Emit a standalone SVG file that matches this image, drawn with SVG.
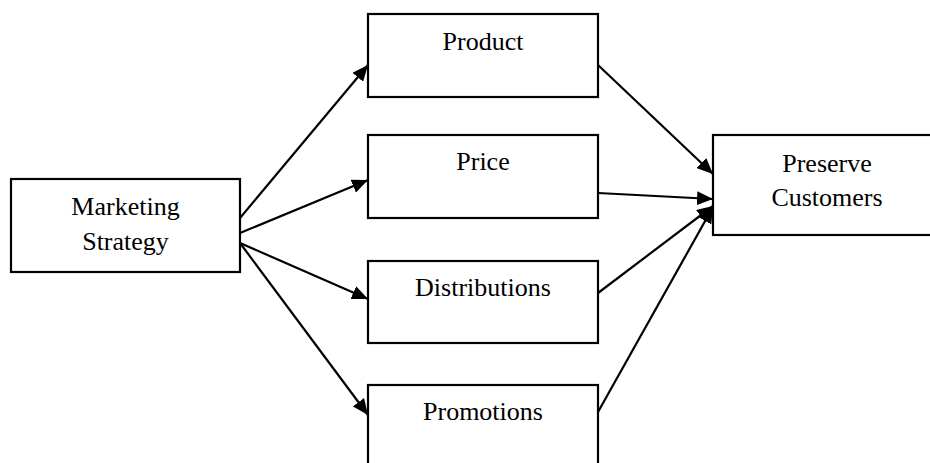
<svg xmlns="http://www.w3.org/2000/svg" width="930" height="463" viewBox="0 0 930 463">
<style>
.box{fill:#fff;stroke:#000;stroke-width:2.2}
.t{font-family:"Liberation Serif","Times New Roman",serif;font-size:26px;fill:#000;text-anchor:middle}
.c{stroke:#000;stroke-width:2.2;fill:none;marker-end:url(#ah)}
</style>
<defs>
<marker id="ah" markerUnits="userSpaceOnUse" markerWidth="18" markerHeight="14" refX="16" refY="7" orient="auto">
<path d="M0,0 L16,7 L0,14 Z" fill="#000"/>
</marker>
</defs>
<rect width="930" height="463" fill="#fff"/>
<g id="connectors">
<line class="c" x1="240" y1="218" x2="368" y2="65"/>
<line class="c" x1="240" y1="233" x2="368" y2="180"/>
<line class="c" x1="240" y1="243" x2="368" y2="299"/>
<line class="c" x1="240" y1="243" x2="368" y2="415"/>
<line class="c" x1="598" y1="65" x2="713" y2="174"/>
<line class="c" x1="598" y1="193" x2="713" y2="199"/>
<line class="c" x1="598" y1="293" x2="713" y2="206"/>
<line class="c" x1="598" y1="412" x2="713" y2="207"/>
</g>
<g id="marketing">
<rect class="box" x="11" y="179" width="229" height="93"/>
<text class="t" x="125.5" y="215">Marketing</text>
<text class="t" x="125.5" y="250">Strategy</text>
</g>
<g id="product">
<rect class="box" x="368" y="14" width="230" height="83"/>
<text class="t" x="483" y="50">Product</text>
</g>
<g id="price">
<rect class="box" x="368" y="135" width="230" height="83"/>
<text class="t" x="483" y="170">Price</text>
</g>
<g id="distributions">
<rect class="box" x="368" y="261" width="230" height="82"/>
<text class="t" x="483" y="296">Distributions</text>
</g>
<g id="promotions">
<rect class="box" x="368" y="385" width="230" height="90"/>
<text class="t" x="483" y="420">Promotions</text>
</g>
<g id="preserve">
<rect class="box" x="713" y="135" width="230" height="100"/>
<text class="t" x="827" y="172">Preserve</text>
<text class="t" x="827" y="206">Customers</text>
</g>
</svg>
